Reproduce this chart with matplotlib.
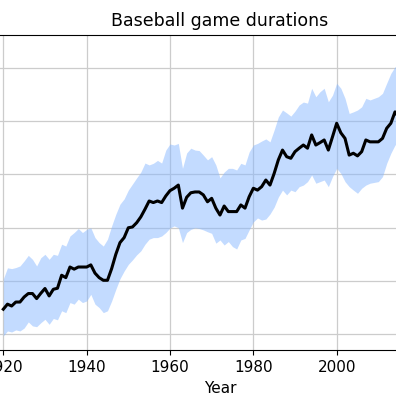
import matplotlib
matplotlib.use('Agg')
import matplotlib.pyplot as plt
import numpy as np

years = np.arange(1920, 2016)

# average game length (minutes) and the spread band around it
mean_minutes = [
    109.2, 111.1, 110.4, 111.9, 111.9, 113.8, 115.1, 115.1, 113.2, 115.2,
    117.0, 114.2, 116.7, 117.1, 122.0, 121.1, 125.1, 124.3, 125.1, 125.1,
    125.1, 125.9, 122.8, 121.1, 120.1, 120.1, 124.5, 129.9, 134.3, 136.2,
    139.9, 140.2, 141.8, 144.0, 146.9, 150.0, 149.4, 150.0, 149.4, 151.9,
    153.9, 154.8, 156.0, 147.3, 151.4, 153.1, 153.4, 153.4, 152.3, 149.7,
    151.0, 147.3, 144.7, 148.1, 146.0, 146.0, 146.0, 148.5, 147.3, 151.6,
    154.8, 154.1, 155.4, 157.9, 156.0, 160.4, 165.5, 169.2, 166.7, 166.1,
    168.6, 169.9, 171.1, 169.9, 174.9, 171.1, 172.0, 173.0, 169.2, 174.2,
    179.3, 175.7, 173.6, 167.3, 168.0, 167.0, 168.6, 173.0, 172.3, 172.3,
    172.3, 173.6, 177.4, 179.3, 183.6, 181.3,
]
upper_minutes = [
    120.6, 124.8, 124.5, 124.9, 125.5, 127.4, 129.5, 128.0, 125.5, 128.6,
    129.9, 128.0, 129.9, 129.5, 133.7, 133.0, 136.8, 138.1, 139.6, 138.1,
    139.3, 139.9, 136.2, 134.3, 133.0, 135.6, 140.6, 145.0, 148.8, 150.8,
    154.1, 156.4, 158.7, 160.9, 164.3, 163.6, 164.2, 165.3, 164.3, 169.2,
    171.5, 171.1, 171.7, 162.3, 168.1, 169.9, 169.2, 169.0, 167.3, 165.5,
    166.7, 163.6, 158.7, 160.9, 162.3, 162.3, 161.7, 164.2, 163.6, 168.5,
    171.1, 171.7, 172.6, 173.4, 172.3, 176.8, 181.7, 184.3, 183.2, 182.0,
    183.9, 186.2, 187.3, 186.9, 192.5, 189.3, 191.2, 192.5, 187.4, 189.9,
    194.4, 192.5, 188.7, 183.0, 183.6, 184.3, 185.5, 188.7, 188.1, 188.7,
    189.3, 190.6, 194.4, 198.1, 200.6, 201.2,
]
lower_minutes = [
    99.1, 101.0, 100.6, 101.4, 101.0, 102.1, 104.4, 102.9, 102.6, 104.1,
    105.4, 103.5, 105.7, 105.2, 108.6, 107.9, 111.7, 111.1, 113.0, 111.7,
    112.3, 114.8, 111.1, 109.8, 107.9, 108.6, 112.3, 116.7, 120.7, 123.6,
    126.1, 127.8, 129.7, 131.2, 133.7, 135.6, 136.2, 136.2, 136.8, 138.1,
    139.8, 140.6, 139.9, 134.3, 138.1, 139.3, 139.9, 139.6, 139.1, 138.4,
    137.8, 134.1, 135.3, 133.4, 134.7, 132.8, 131.9, 135.3, 135.9, 139.1,
    142.1, 143.6, 142.8, 143.2, 145.1, 147.7, 151.5, 154.1, 152.3, 154.1,
    153.5, 155.4, 156.0, 157.3, 159.8, 156.7, 157.3, 157.9, 155.4, 159.2,
    162.3, 160.4, 157.3, 155.4, 154.1, 152.9, 154.8, 156.0, 156.7, 157.0,
    157.3, 159.2, 164.2, 168.0, 171.1, 172.2,
]

fig = plt.figure(figsize=(3.96, 3.96), dpi=100)
# the axes run past the left and right edges of the picture
ax = fig.add_axes([-0.1495, 0.1154, 1.4101, 0.797])

ax.fill_between(years, lower_minutes, upper_minutes, color='#88b8ff', alpha=0.5, linewidth=0)
ax.plot(years, mean_minutes, color='black', linewidth=2.2)

ax.set_xlim(1905, 2039)
ax.set_ylim(93.7, 212.7)
ax.set_xticks([1920, 1940, 1960, 1980, 2000, 2020])
ax.set_yticks([100, 120, 140, 160, 180, 200])
ax.grid(True, color='#cccccc', linewidth=0.9)
ax.set_axisbelow(True)
ax.tick_params(labelsize=11)

ax.set_title('Baseball game durations', fontsize=12.5)
ax.set_xlabel('Year', fontsize=11)

fig.savefig('out.png', dpi=100)
